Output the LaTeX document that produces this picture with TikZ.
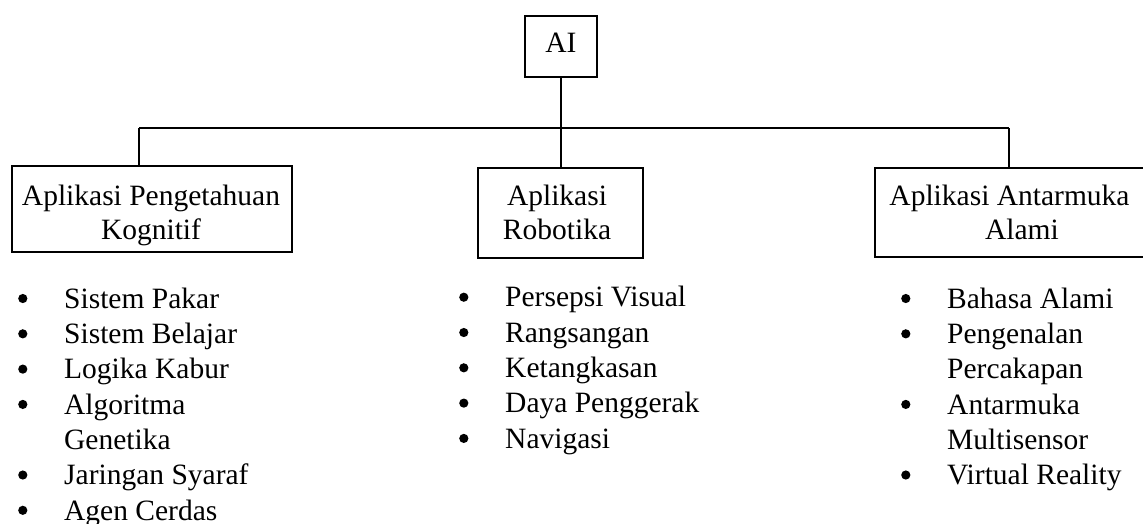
\documentclass[tikz,border=0pt]{standalone}
\usepackage{fontspec}
\setmainfont{Liberation Serif}
\newcommand\mydot{\tikz[baseline={(0pt,-9.7pt)}]\fill (0pt,0pt) circle (4.6pt);}
\newcommand\mybul{\strut\makebox[47pt][l]{\hspace*{1pt}\mydot}}
\newcommand\myind{\strut\hspace*{47pt}}
\tikzset{
  conn/.style={line width=1.6pt},
  boxnode/.style={draw, line width=1.7pt, inner sep=0pt},
  lbl/.style={font=\fontsize{29.5}{34}\selectfont, align=center, inner sep=0pt, anchor=north},
  lst/.style={font=\fontsize{29.5}{35.3}\selectfont, align=left, inner sep=0pt, anchor=north west},
}
\begin{document}
\begin{tikzpicture}[x=1pt,y=-1pt]
\useasboundingbox (0,0) rectangle (1143,523);
% root
\node[boxnode, minimum width=72pt, minimum height=61pt, font=\fontsize{29.5}{34}\selectfont, text depth=8pt] (ai) at (561,46.5) {AI};
% boxes
\node[boxnode, minimum width=280pt, minimum height=86pt] (kbox) at (152,209) {};
\node[boxnode, minimum width=165pt, minimum height=90pt] (rbox) at (560.5,213) {};
\node[boxnode, minimum width=272pt, minimum height=89pt] (abox) at (1011,212.5) {};
% box texts
\node[lbl] (ktext) at (151,181.2) {\strut Aplikasi Pengetahuan\\\strut Kognitif};
\node[lbl] (rtext) at (557,181.2) {\strut Aplikasi\\\strut Robotika};
\node[lbl] (atext) at (1009.5,181.2) {\strut Aplikasi Antarmuka\\\strut\hspace*{25pt}Alami};
% connectors
\coordinate (jl) at (139,128);
\coordinate (jr) at (1009,128);
\draw[conn] (ai.south) -- (ai.south |- rbox.north);
\draw[conn] (jl) -- (jr);
\draw[conn] (jl) -- (jl |- kbox.north);
\draw[conn] (jr) -- (jr |- abox.north);
% lists
\node[lst] (klist) at (17,283.3) {\mybul Sistem Pakar\\\mybul Sistem Belajar\\\mybul Logika Kabur\\\mybul Algoritma\\\myind Genetika\\\mybul Jaringan Syaraf\\\mybul Agen Cerdas};
\node[lst] (rlist) at (458,282) {\mybul Persepsi Visual\\\mybul Rangsangan\\\mybul Ketangkasan\\\mybul Daya Penggerak\\\mybul Navigasi};
\node[lst] (alist) at (900,283.3) {\mybul Bahasa Alami\\\mybul Pengenalan\\\myind Percakapan\\\mybul Antarmuka\\\myind Multisensor\\\mybul Virtual Reality};
\end{tikzpicture}
\end{document}
